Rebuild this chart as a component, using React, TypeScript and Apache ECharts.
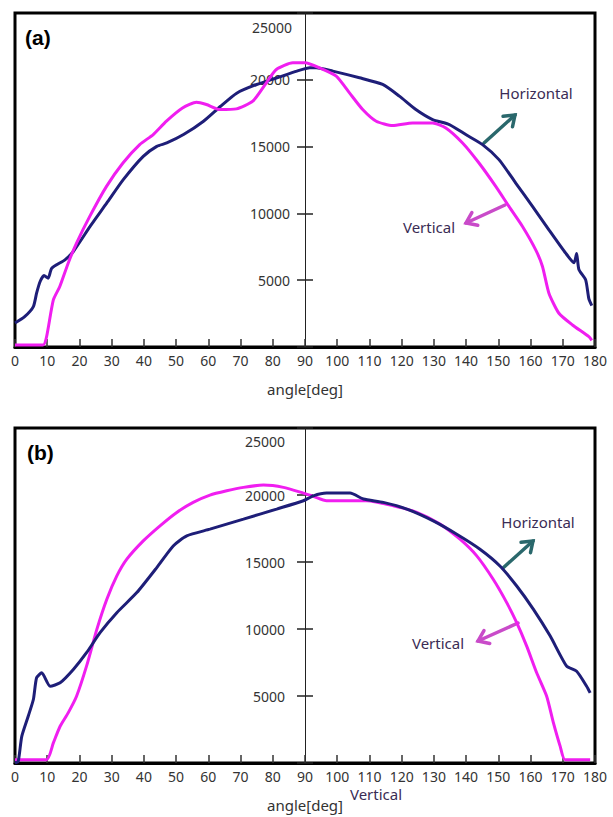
import React, { useEffect, useRef } from "react";
import * as echarts from "echarts";

// ---- data (angle in degrees, intensity) ----
const xTicks = { min: 0, max: 180, interval: 10 };
const yTicks = { min: 0, max: 25000, interval: 5000 };

const horizontalA: [number, number][] = [
  [0, 1800], [3, 2270], [5.7, 3020], [6.7, 4030], [7.8, 4900], [9, 5350], [10.3, 5150],
  [11.4, 5900], [15.5, 6525], [18.1, 7150], [23.3, 9025], [28.5, 10780], [33.6, 12525],
  [39.8, 14270], [44, 15020], [47.1, 15270], [52.3, 15900], [58.5, 16900], [63.7, 18000],
  [68.8, 19000], [75, 19650], [81.3, 20150], [87.5, 20650], [91.5, 20900], [93.5, 20900],
  [98.6, 20650], [106.9, 20150], [114.1, 19650], [119.3, 18775], [124.4, 17775],
  [129.6, 17025], [134.8, 16650], [139.9, 15900], [145.1, 15150], [150.2, 14025],
  [155.4, 12275], [160.6, 10525], [165.7, 8775], [170.9, 7025], [173.5, 6300],
  [174.3, 7000], [175, 5800], [177.1, 5025], [178.1, 3600], [179, 3100],
];

const verticalA: [number, number][] = [
  [0, 150], [8.7, 150], [9.8, 770], [11.9, 3525], [13.9, 4525], [16.5, 6275], [19.1, 7775],
  [23.2, 9775], [28.4, 12025], [33.5, 13775], [38.7, 15150], [42.9, 15900], [47, 16900],
  [52.1, 17900], [56.3, 18325], [59.4, 18150], [63.5, 17775], [68.7, 17825], [73.8, 18400],
  [78, 19775], [81.1, 20775], [86.2, 21275], [90, 21275], [94.5, 20900], [99.7, 20275],
  [103.8, 19025], [107.9, 17775], [112.1, 16900], [117.2, 16575], [123.4, 16775],
  [129.6, 16775], [133.7, 16400], [138.9, 15275], [144, 13775], [149.2, 12025],
  [153.3, 10525], [157.5, 9025], [161.6, 7275], [163.7, 6025], [165.7, 4025],
  [168.8, 2525], [173, 1650], [178.1, 775], [179, 500],
];

const horizontalB: [number, number][] = [
  [0, 0], [1, 120], [2.1, 1990], [4.1, 3490], [5.7, 4735], [6.7, 6360], [8.3, 6730],
  [10.9, 5730], [14, 5985], [18.1, 6980], [22.2, 8230], [26.4, 9725], [31.6, 11220],
  [37.8, 12715], [44, 14585], [49.1, 16200], [53.3, 16950], [60.5, 17450], [70.9, 18200],
  [81.2, 18950], [89.5, 19570], [92.6, 19940], [96.7, 20140], [104, 20140], [108.1, 19700],
  [114.3, 19450], [121.6, 18950], [129.8, 18070], [137.1, 17075], [144.3, 15955],
  [150.5, 14705], [155.7, 13210], [160.9, 11470], [166.1, 9470], [171.2, 7225],
  [174.3, 6850], [177.4, 5730], [178.5, 5235],
];

const verticalB: [number, number][] = [
  [0, 250], [9.8, 250], [11.9, 1500], [14, 2740], [16.5, 3740], [19.1, 4980], [22.2, 7225],
  [25.4, 9970], [28.5, 12215], [31.6, 13960], [34.7, 15210], [39.8, 16575], [45, 17700],
  [50.2, 18700], [55.3, 19450], [60.5, 19995], [65.7, 20315], [70.9, 20570], [77.1, 20740],
  [83.3, 20570], [89.5, 20140], [92.6, 19900], [96.7, 19570], [104, 19570], [109.2, 19570],
  [117.4, 19200], [124.7, 18700], [131.9, 17825], [138.1, 16700], [143.3, 15455],
  [148.4, 13710], [152.6, 11970], [155.7, 10470], [158.8, 8720], [161.9, 6730],
  [165, 4980], [167.1, 2990], [169.2, 1240], [170.7, 250], [178.5, 250],
];

const panelLabels = ["(a)", "(b)"];
const seriesNames = ["Horizontal", "Vertical"];
const axisName = "angle[deg]";

// ---- styles ----
const NAVY = "#1e1e78";
const MAGENTA = "#f01ef0";
const TEAL = "#2a686c";
const ARROW_MAG = "#c94bc9";
const TEXT_DARK = "#3a2c55";
const FONT = "'Noto Sans', 'Open Sans', sans-serif";

function arrow(x1: number, y1: number, x2: number, y2: number, color: string) {
  const ang = Math.atan2(y2 - y1, x2 - x1);
  const len = 12;
  const spread = Math.PI / 5;
  const p1 = [x2 - len * Math.cos(ang - spread), y2 - len * Math.sin(ang - spread)];
  const p2 = [x2 - len * Math.cos(ang + spread), y2 - len * Math.sin(ang + spread)];
  return [
    { type: "line", shape: { x1, y1, x2, y2 }, style: { stroke: color, lineWidth: 3.5, lineCap: "round" } },
    {
      type: "polyline",
      shape: { points: [p1, [x2, y2], p2] },
      style: { stroke: color, lineWidth: 3.5, fill: null, lineCap: "round", lineJoin: "miter" },
    },
  ];
}

function text(x: number, y: number, t: string, opts: any = {}) {
  return {
    type: "text",
    x,
    y,
    style: {
      text: t,
      fill: opts.fill || TEXT_DARK,
      font: opts.font || `15px ${FONT}`,
      align: opts.align || "center",
      verticalAlign: "middle",
    },
  };
}

export default function App() {
  const ref = useRef<HTMLDivElement>(null);

  useEffect(() => {
    if (!ref.current) return;
    const chart = echarts.init(ref.current, null, { renderer: "svg" });

    const grids = [
      { left: 15, top: 13, width: 580, height: 334 },
      { left: 15, top: 428, width: 580, height: 335 },
    ];
    const labelMargins = [15, 20];

    const xAxes = grids.map((_, i) => ({
      type: "value",
      gridIndex: i,
      min: xTicks.min,
      max: xTicks.max,
      interval: xTicks.interval,
      position: "bottom",
      axisLine: { show: true, onZero: false, lineStyle: { color: "#000", width: 3 } },
      axisTick: { show: true, inside: true, length: 8, lineStyle: { color: "#333", width: 1.5 } },
      axisLabel: { color: "#333", fontSize: 14, fontFamily: FONT, margin: 6 },
      splitLine: { show: false },
      name: axisName,
      nameLocation: "middle",
      nameGap: 34,
      nameTextStyle: { color: "#333", fontSize: 15, fontFamily: FONT },
    }));

    const yAxes: any[] = [];
    grids.forEach((_, i) => {
      yAxes.push({
        type: "value",
        gridIndex: i,
        min: yTicks.min,
        max: yTicks.max,
        interval: yTicks.interval,
        position: "left",
        offset: -290,
        axisLine: { show: true, onZero: false, lineStyle: { color: "#222", width: 1 } },
        axisTick: { show: true, inside: false, length: 8, lineStyle: { color: "#222", width: 1.5 } },
        axisLabel: {
          color: "#333",
          fontSize: 14,
          fontFamily: FONT,
          margin: labelMargins[i],
          formatter: (v: number) => (v === yTicks.min || v === yTicks.max ? "" : String(v)),
        },
        splitLine: { show: false },
      });
      yAxes.push({
        type: "value",
        gridIndex: i,
        min: yTicks.min,
        max: yTicks.max,
        interval: yTicks.interval,
        position: "left",
        offset: -290,
        axisLine: { show: false },
        axisTick: { show: true, inside: true, length: 8, lineStyle: { color: "#222", width: 1.5 } },
        axisLabel: { show: false },
        splitLine: { show: false },
      });
    });

    const mkSeries = (name: string, data: [number, number][], grid: number, color: string, z: number) => ({
      type: "line",
      name,
      data,
      xAxisIndex: grid,
      yAxisIndex: grid * 2,
      showSymbol: false,
      smooth: 0.2,
      z,
      lineStyle: { color, width: 3 },
      itemStyle: { color },
    });

    const graphic: any[] = [
      text(25, 37, panelLabels[0], { font: `bold 21px 'Liberation Sans', Arial, sans-serif`, fill: "#000", align: "left" }),
      text(27, 452, panelLabels[1], { font: `bold 21px 'Liberation Sans', Arial, sans-serif`, fill: "#000", align: "left" }),
      text(292, 27, String(yTicks.max), { font: `14px ${FONT}`, fill: "#333", align: "right" }),
      text(285, 441, String(yTicks.max), { font: `14px ${FONT}`, fill: "#333", align: "right" }),
      text(536, 93, seriesNames[0]),
      text(429, 227, seriesNames[1]),
      text(538, 522, seriesNames[0]),
      text(438, 643, seriesNames[1]),
      text(376, 794, seriesNames[1]),
      ...arrow(484, 143, 515, 115, TEAL),
      ...arrow(505, 205, 466, 223, ARROW_MAG),
      ...arrow(503, 568, 533, 541, TEAL),
      ...arrow(518, 623, 478, 641, ARROW_MAG),
    ];

    chart.setOption({
      animation: false,
      backgroundColor: "#fff",
      grid: grids.map((g) => ({ ...g, show: true, borderColor: "#000", borderWidth: 3, backgroundColor: "transparent" })),
      xAxis: xAxes,
      yAxis: yAxes,
      series: [
        mkSeries(seriesNames[0], horizontalA, 0, NAVY, 2),
        mkSeries(seriesNames[1], verticalA, 0, MAGENTA, 3),
        mkSeries(seriesNames[1], verticalB, 1, MAGENTA, 2),
        mkSeries(seriesNames[0], horizontalB, 1, NAVY, 3),
      ],
      graphic,
    });

    return () => chart.dispose();
  }, []);

  return (
    <div
      ref={ref}
      style={{ position: "fixed", left: 0, top: 0, width: 613, height: 817, background: "#fff" }}
    />
  );
}
